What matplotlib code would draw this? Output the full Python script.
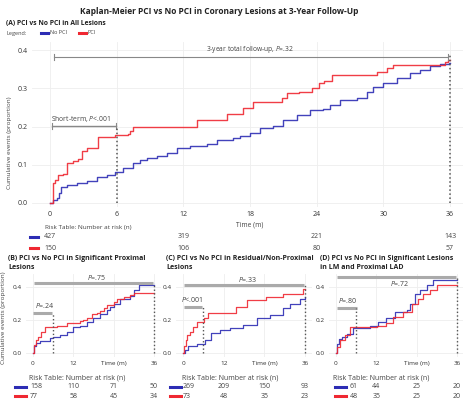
import matplotlib
matplotlib.use("Agg")
import matplotlib.pyplot as plt

plt.rcParams['font.family'] = ['Open Sans', 'DejaVu Sans']
plt.rcParams['mathtext.fontset'] = 'custom'
plt.rcParams['mathtext.it'] = 'Open Sans:italic'
plt.rcParams['mathtext.rm'] = 'Open Sans'

W, H = 464, 407
BLUE = '#2d2db4'
RED = '#ef2832'
GREY_TXT = '#444444'

# ---- data ----
a_nopci_t = [0, 0.3, 0.6, 0.85, 0.95, 1.5, 2.4, 3.3, 4.2, 5.1, 5.85, 6.6, 7.5, 8.1, 8.7, 9.6, 10.5, 11.4, 12.6,
             14.1, 15.0, 16.5, 17.1, 18.0, 18.9, 20.1, 21.0, 22.2, 23.4, 24.6, 25.2, 26.1, 27.6, 28.5, 29.1, 30.0,
             31.2, 32.4, 33.3, 34.2, 35.1, 35.9, 36]
a_nopci_v = [0, 0.008, 0.013, 0.026, 0.043, 0.048, 0.053, 0.058, 0.067, 0.073, 0.082, 0.091, 0.104, 0.113, 0.117,
             0.123, 0.130, 0.143, 0.148, 0.155, 0.165, 0.169, 0.174, 0.183, 0.196, 0.202, 0.217, 0.230, 0.242,
             0.245, 0.256, 0.270, 0.274, 0.291, 0.304, 0.315, 0.326, 0.339, 0.348, 0.358, 0.363, 0.365, 0.365]
a_pci_t = [0, 0.3, 0.45, 0.75, 1.2, 1.5, 2.1, 2.55, 2.85, 3.3, 4.3, 5.85, 7.0, 7.2, 7.5, 13.2, 15.9, 17.4, 18.3,
           20.85, 21.3, 22.4, 23.6, 24.2, 24.65, 25.4, 29.4, 30.3, 30.9, 35.55, 35.8, 36]
a_pci_v = [0, 0.051, 0.060, 0.073, 0.077, 0.105, 0.110, 0.115, 0.136, 0.145, 0.173, 0.178, 0.180, 0.188, 0.198,
           0.217, 0.233, 0.248, 0.265, 0.274, 0.287, 0.291, 0.300, 0.313, 0.320, 0.335, 0.343, 0.352, 0.360,
           0.369, 0.373, 0.373]

b_nopci_t = [0, 0.3, 1, 2, 4, 5, 6, 8, 10, 12, 14, 16, 18, 20, 22, 23, 24, 26, 29, 30, 31.5, 36]
b_nopci_v = [0, 0.04, 0.06, 0.07, 0.075, 0.09, 0.095, 0.11, 0.13, 0.155, 0.165, 0.19, 0.21, 0.235, 0.26, 0.28,
             0.30, 0.33, 0.345, 0.38, 0.41, 0.41]
b_pci_t = [0, 0.3, 1, 1.5, 2.5, 3.5, 7, 10, 14, 15, 16, 17.5, 19, 20, 21, 22, 24, 25, 27, 29, 30, 36]
b_pci_v = [0, 0.05, 0.08, 0.10, 0.13, 0.155, 0.165, 0.18, 0.195, 0.20, 0.215, 0.235, 0.24, 0.255, 0.27, 0.29,
           0.31, 0.33, 0.34, 0.35, 0.365, 0.365]

c_nopci_t = [0, 0.5, 1.5, 4, 6.5, 8.4, 10.9, 13.8, 17.8, 21.7, 25.6, 29.5, 31.5, 34.4, 35.9, 36]
c_nopci_v = [0, 0.02, 0.04, 0.055, 0.08, 0.12, 0.14, 0.15, 0.17, 0.21, 0.23, 0.27, 0.30, 0.33, 0.34, 0.34]
c_pci_t = [0, 0.3, 0.8, 1.3, 2.1, 3.0, 4.1, 6.1, 7.5, 15.7, 18.8, 24.6, 29.5, 35.4, 36]
c_pci_v = [0, 0.04, 0.08, 0.11, 0.13, 0.16, 0.19, 0.21, 0.24, 0.28, 0.32, 0.34, 0.36, 0.39, 0.39]

d_nopci_t = [0, 0.4, 1.0, 1.7, 3.2, 5.2, 10, 12.5, 15, 17.5, 21, 22, 23.4, 25, 27, 29, 36]
d_nopci_v = [0, 0.057, 0.088, 0.10, 0.118, 0.15, 0.163, 0.19, 0.21, 0.25, 0.26, 0.30, 0.36, 0.38, 0.41, 0.445,
             0.445]
d_pci_t = [0, 0.4, 1.2, 2.7, 4.2, 12.1, 15, 17, 20, 22.5, 24.5, 26, 28, 30, 36]
d_pci_v = [0, 0.037, 0.078, 0.108, 0.155, 0.163, 0.18, 0.22, 0.25, 0.30, 0.33, 0.36, 0.38, 0.41, 0.41]

risk_times = [0, 12, 24, 36]
a_risk_nopci = [427, 319, 221, 143]
a_risk_pci = [150, 106, 80, 57]
b_risk_nopci = [158, 110, 71, 50]
b_risk_pci = [77, 58, 45, 34]
c_risk_nopci = [269, 209, 150, 93]
c_risk_pci = [73, 48, 35, 23]
d_risk_nopci = [61, 44, 25, 20]
d_risk_pci = [48, 35, 25, 20]

p_total = ['.32', '.75', '.33', '.72']
p_short = ['<.001', '=.24', '<.001', '=.80']


def px_axes(fig, l, r, t, b):
    return fig.add_axes([l / W, 1 - b / H, (r - l) / W, (b - t) / H])


def style(ax, xlim, ylim, yticks, xticks, xlabels, fs):
    ax.set_xlim(*xlim)
    ax.set_ylim(*ylim)
    ax.set_yticks(yticks)
    ax.set_yticklabels(['%.1f' % y for y in yticks])
    ax.set_xticks(xticks)
    ax.set_xticklabels(xlabels)
    for s in ax.spines.values():
        s.set_visible(False)
    ax.tick_params(length=0, labelsize=fs, colors='#333333', pad=3)
    ax.grid(True, color='#eeeeee', lw=0.6)
    ax.set_axisbelow(True)


def curves(ax, t1, v1, t2, v2, lw):
    ax.step(t1, v1, where='post', color=BLUE, lw=lw, alpha=0.9)
    ax.step(t2, v2, where='post', color=RED, lw=lw, alpha=0.9)


def dash(fig, x, y, color, w=8):
    fig.add_artist(plt.Line2D([x / W, (x + w) / W], [1 - y / H, 1 - y / H], color=color, lw=2.2))


fig = plt.figure(figsize=(W / 100, H / 100), dpi=100)

fig.text(219 / W, 1 - 11 / H, 'Kaplan-Meier PCI vs No PCI in Coronary Lesions at 3-Year Follow-Up',
         ha='center', va='center', fontsize=6.0, fontweight='bold', color='#222222',
         family=['Liberation Sans Narrow', 'Open Sans'])
fig.text(6 / W, 1 - 23 / H, '(A) PCI vs No PCI in All Lesions', ha='left', va='center', fontsize=4.9,
         fontweight='bold', color='#222222')
fig.text(7 / W, 1 - 33 / H, 'Legend:', ha='left', va='center', fontsize=4.0, color=GREY_TXT)
dash(fig, 41, 33, BLUE, 7)
fig.text(50 / W, 1 - 33 / H, 'No PCI', ha='left', va='center', fontsize=4.0, color=GREY_TXT)
dash(fig, 79, 33, RED, 7)
fig.text(88 / W, 1 - 33 / H, 'PCI', ha='left', va='center', fontsize=4.0, color=GREY_TXT)

# ---- panel A ----
axA = px_axes(fig, 32, 463, 42, 207)
style(axA, (-1.62, 37.17), (-0.0105, 0.421), [0, 0.1, 0.2, 0.3, 0.4], [0, 6, 12, 18, 24, 30, 36],
      ['0', '6', '12', '18', '24', '30', '36'], 5.0)
curves(axA, a_nopci_t, a_nopci_v, a_pci_t, a_pci_v, 1.0)
axA.plot([0.4, 35.8], [0.382, 0.382], color='#888888', lw=0.8)
axA.plot([0.4, 0.4], [0.374, 0.390], color='#888888', lw=0.8)
axA.plot([35.8, 35.8], [0.374, 0.390], color='#888888', lw=0.8)
axA.text(18, 0.386, '3-year total follow-up, $P$=' + p_total[0], ha='center', va='bottom', fontsize=4.8,
         color=GREY_TXT)
axA.plot([0.2, 5.9], [0.201, 0.201], color='#888888', lw=1.0)
axA.plot([0.2, 0.2], [0.193, 0.209], color='#888888', lw=0.8)
axA.plot([5.9, 5.9], [0.193, 0.209], color='#888888', lw=0.8)
axA.text(0.1, 0.207, 'Short-term, $P$' + p_short[0], ha='left', va='bottom', fontsize=4.9, color=GREY_TXT)
axA.plot([6, 6], [0, 0.196], color='#555555', lw=1.1, ls=':')
axA.plot([36, 36], [0, 0.387], color='#555555', lw=1.1, ls=':')
fig.text(10 / W, 1 - 143 / H, 'Cumulative events (proportion)', rotation=90, ha='center', va='center',
         fontsize=4.6, color=GREY_TXT)
fig.text(250 / W, 1 - 225 / H, 'Time (m)', ha='center', va='center', fontsize=4.8, color=GREY_TXT)
fig.text(45 / W, 1 - 227 / H, 'Risk Table: Number at risk (n)', ha='left', va='center', fontsize=4.6,
         color=GREY_TXT)
dash(fig, 30, 237, BLUE)
dash(fig, 30, 248, RED)
a_x = [50 + t * 400 / 36 for t in risk_times]
for x, n1, n2 in zip(a_x, a_risk_nopci, a_risk_pci):
    fig.text(x / W, 1 - 237 / H, str(n1), ha='center', va='center', fontsize=5.0, color=GREY_TXT)
    fig.text(x / W, 1 - 248 / H, str(n2), ha='center', va='center', fontsize=5.0, color=GREY_TXT)

# ---- bottom panels ----
panels = [
    ('(B) PCI vs No PCI in Significant Proximal\nLesions', 8, (26, 161), (-2.08, 38.1),
     b_nopci_t, b_nopci_v, b_pci_t, b_pci_v, b_risk_nopci, b_risk_pci,
     0.426, 0.458, 'center', 0.24, 0.1, 5.6, 0.5, 0.26, (15, 30), 29),
    ('(C) PCI vs No PCI in Residual/Non-Proximal\nLesions', 166, (176, 312), (-2.07, 38.05),
     c_nopci_t, c_nopci_v, c_pci_t, c_pci_v, c_risk_nopci, c_risk_pci,
     0.412, 0.444, 'center', 0.277, 0.4, 5.6, -0.6, 0.295, (170, 183), 182),
    ('(D) PCI vs No PCI in Significant Lesions\nin LM and Proximal LAD', 320, (329, 463), (-2.08, 37.8),
     d_nopci_t, d_nopci_v, d_pci_t, d_pci_v, d_risk_nopci, d_risk_pci,
     0.462, 0.42, 'center', 0.27, 0.4, 6.3, 0.6, 0.29, (335, 350), 333),
]
for i, (title, tx, (l, r), xlim, t1, v1, t2, v2, rk1, rk2, ybig, ytxt, vab, ysm, s0, s1, stx, sty,
        (dx, nx), hx) in enumerate(panels):
    fig.text(tx / W, 1 - 263 / H, title, ha='left', va='center', fontsize=5.0, fontweight='bold',
             color='#222222', linespacing=1.5)
    ax = px_axes(fig, l, r, 274, 357)
    style(ax, xlim, (-0.024, 0.479), [0, 0.2, 0.4], [0, 12, 24, 36], ['0', '12', 'Time (m)', '36'], 4.6)
    curves(ax, t1, v1, t2, v2, 0.9)
    ax.plot([0.2, 35.8], [ybig, ybig], color='#aaaaaa', lw=2.2, solid_capstyle='butt')
    ax.text(19, ytxt, '$P$=' + p_total[i + 1], ha='center', va=vab, fontsize=5.0, color=GREY_TXT)
    ax.plot([s0, s1], [ysm, ysm], color='#aaaaaa', lw=2.2, solid_capstyle='butt')
    ax.text(stx, sty, '$P$' + p_short[i + 1], ha='left', va='bottom', fontsize=5.0, color=GREY_TXT)
    ax.plot([6, 6], [0, ysm], color='#555555', lw=1.0, ls=':')
    ax.plot([36, 36], [0, ybig], color='#555555', lw=1.0, ls=':')
    fig.text(hx / W, 1 - 378 / H, 'Risk Table: Number at risk (n)', ha='left', va='center',
             fontsize=5.0, color=GREY_TXT)
    dash(fig, dx, 387, BLUE, 11)
    dash(fig, dx, 396, RED, 11)
    x0 = l - xlim[0] * (r - l) / (xlim[1] - xlim[0])
    sc = (r - l) / (xlim[1] - xlim[0])
    for j, (t, n1, n2) in enumerate(zip(risk_times, rk1, rk2)):
        x = x0 + t * sc
        if j == 0:
            fig.text(nx / W, 1 - 387 / H, str(n1), ha='left', va='center', fontsize=5.0, color=GREY_TXT)
            fig.text(nx / W, 1 - 396 / H, str(n2), ha='left', va='center', fontsize=5.0, color=GREY_TXT)
        else:
            fig.text(x / W, 1 - 387 / H, str(n1), ha='center', va='center', fontsize=5.0, color=GREY_TXT)
            fig.text(x / W, 1 - 396 / H, str(n2), ha='center', va='center', fontsize=5.0, color=GREY_TXT)

fig.text(4 / W, 1 - 318 / H, 'Cumulative events (proportion)', rotation=90, ha='center', va='center',
         fontsize=4.6, color=GREY_TXT)

fig.savefig('out.png', dpi=100)
